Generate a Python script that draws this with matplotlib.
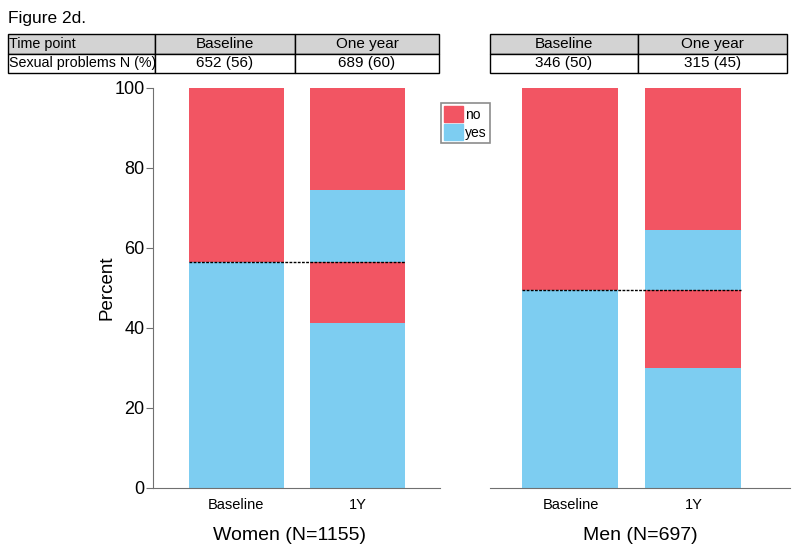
import numpy as np
import matplotlib.pyplot as plt

plt.rcParams['font.family'] = ['Liberation Sans', 'DejaVu Sans']

red = '#f25563'
blue = '#7dcdf1'

groups = ['Women (N=1155)', 'Men (N=697)']
timepoints = ['Baseline', '1Y']

# baseline: yes / no (percent)
baseline_yes = [56.4, 49.6]
baseline_no = [43.6, 50.4]
# one year, stacked bottom to top: yes->yes, yes->no, no->yes, no->no
yes_yes = [41.2, 30.0]
yes_no = [15.2, 19.6]
no_yes = [18.1, 15.0]
no_no = [25.5, 35.4]

table_rows = ['Time point', 'Sexual problems N (%)']
table_women = [['Baseline', 'One year'], ['652 (56)', '689 (60)']]
table_men = [['Baseline', 'One year'], ['346 (50)', '315 (45)']]

W, H = 795, 554
fig = plt.figure(figsize=(W / 100, H / 100), dpi=100)


def box(x0, y0, x1, y1):
    return [x0 / W, 1 - y1 / H, (x1 - x0) / W, (y1 - y0) / H]


ax_w = fig.add_axes(box(153, 88, 440, 488))
ax_m = fig.add_axes(box(490, 88, 790, 488))

xlims = [(-0.685, 1.676), (-0.654, 1.785)]
label_x = [0.477, 0.5]
width = 0.78
for i, ax in enumerate([ax_w, ax_m]):
    x = np.arange(2)
    ax.bar(0, baseline_yes[i], width, color=blue)
    ax.bar(0, baseline_no[i], width, bottom=baseline_yes[i], color=red)
    bottom = 0
    for val, col in zip([yes_yes[i], yes_no[i], no_yes[i], no_no[i]],
                        [blue, red, blue, red]):
        ax.bar(1, val, width, bottom=bottom, color=col)
        bottom += val
    ax.plot([-width / 2, 1 + width / 2], [baseline_yes[i], baseline_yes[i]],
            color='black', linestyle=(0, (2, 1)), linewidth=1)
    ax.set_xlim(*xlims[i])
    ax.set_ylim(0, 100)
    ax.set_xticks(x)
    ax.set_xticklabels(timepoints, fontsize=10.5)
    ax.tick_params(axis='x', length=0, pad=7)
    for s in ['top', 'right']:
        ax.spines[s].set_visible(False)
    ax.spines['bottom'].set_color('#707070')
    ax.spines['left'].set_color('#707070')
    ax.text(label_x[i], -0.12, groups[i], transform=ax.transAxes,
            ha='center', va='center', fontsize=14)

ax_w.set_yticks([0, 20, 40, 60, 80, 100])
ax_w.tick_params(axis='y', labelsize=13, length=5, color='#707070', pad=1)
ax_w.set_ylabel('Percent', fontsize=13.5, labelpad=-1)
ax_m.spines['left'].set_visible(False)
ax_m.set_yticks([])

handles = [plt.Rectangle((0, 0), 1, 1, color=red),
           plt.Rectangle((0, 0), 1, 1, color=blue)]
leg = fig.legend(handles, ['no', 'yes'], loc='upper left',
                 bbox_to_anchor=(441 / W, 1 - 103 / H), fontsize=10,
                 handlelength=1.35, handleheight=1.45, handletextpad=0.2,
                 borderpad=0.2, labelspacing=0.1, fancybox=False,
                 edgecolor='#707070', borderaxespad=0)
leg.get_frame().set_linewidth(1.2)

fig.text(8 / W, 1 - 18 / H, 'Figure 2d.', fontsize=12.5, va='center')

gray = '#d3d3d3'
tab_l = fig.add_axes(box(8, 34, 439, 73))
tab_l.axis('off')
cells = [[table_rows[0]] + table_women[0], [table_rows[1]] + table_women[1]]
t = tab_l.table(cellText=cells, cellColours=[[gray] * 3, ['white'] * 3],
                colWidths=[147, 140, 144], bbox=[0, 0, 1, 1],
                cellLoc='center')
t.auto_set_font_size(False)
for (r, c), cell in t.get_celld().items():
    cell.set_fontsize(11)
    cell.set_linewidth(1)
    if c == 0:
        cell.set_text_props(ha='left', fontsize=10.3)
        cell.PAD = 0.005

tab_r = fig.add_axes(box(490, 34, 787, 73))
tab_r.axis('off')
t2 = tab_r.table(cellText=table_men, cellColours=[[gray] * 2, ['white'] * 2],
                 colWidths=[148, 149], bbox=[0, 0, 1, 1], cellLoc='center')
t2.auto_set_font_size(False)
for (r, c), cell in t2.get_celld().items():
    cell.set_fontsize(11)
    cell.set_linewidth(1)

plt.savefig('out.png', dpi=100)
